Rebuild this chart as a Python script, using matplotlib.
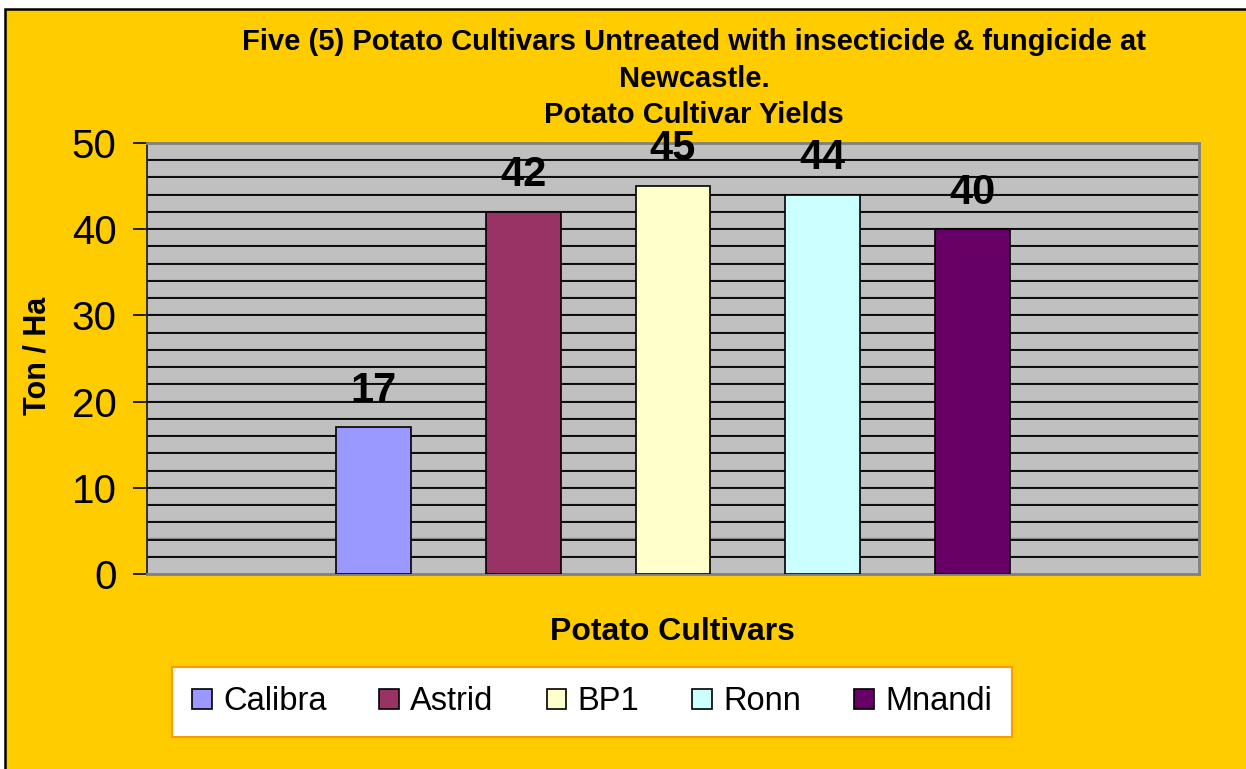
import matplotlib
matplotlib.use('Agg')
import matplotlib.pyplot as plt
from matplotlib.patches import Rectangle, Patch
import numpy as np

plt.rcParams['font.family'] = ['Liberation Sans', 'DejaVu Sans']

cultivars = ['Calibra', 'Astrid', 'BP1', 'Ronn', 'Mnandi']
yields = [17, 42, 45, 44, 40]
colors = ['#9999FF', '#993366', '#FFFFCC', '#CCFFFF', '#660066']
title_lines = ['Five (5) Potato Cultivars Untreated with insecticide & fungicide at',
               'Newcastle.',
               'Potato Cultivar Yields']
y_ticks = [0, 10, 20, 30, 40, 50]

W, H = 1246, 769
fig = plt.figure(figsize=(W / 100, H / 100), dpi=100, facecolor='white')

# orange chart area, black frame only visible on left/top
bg = Rectangle((5 / W, -0.05), 1.1, (H - 9) / H + 0.05, transform=fig.transFigure,
               facecolor='#FFCC00', edgecolor='black', linewidth=1.8, zorder=-10)
fig.patches.append(bg)

ax = fig.add_axes([147 / W, 1 - 574 / H, 1052 / W, 431 / H])
ax.set_facecolor('#C0C0C0')

x = np.arange(len(cultivars))
ax.bar(x, yields, width=0.5, color=colors, edgecolor='black', linewidth=1.2, zorder=3)

for xi, v in zip(x, yields):
    ax.annotate(str(v), (xi, v), xytext=(0, 12), textcoords='offset points',
                ha='center', va='bottom', fontsize=30, fontweight='bold')

ax.set_xlim(2 - 3.507, 2 + 3.507)
ax.set_ylim(0, 50)
ax.set_yticks(y_ticks)
ax.tick_params(axis='y', which='major', labelsize=29, length=10, width=1.2, direction='out', pad=12)
ax.set_xticks([])

# grid lines every 2 units
for g in np.arange(2, 50, 2):
    ax.axhline(g + 0.12, color='#8A8A8A', linewidth=1.0, zorder=1)
    ax.axhline(g, color='black', linewidth=1.3, zorder=2)

ax.spines['left'].set_color('#222222')
ax.spines['left'].set_linewidth(1.3)
for s in ['top', 'right', 'bottom']:
    ax.spines[s].set_color('#808080')
    ax.spines[s].set_linewidth(2)

# titles and axis labels
ty = [42, 79, 115]
for line, yy in zip(title_lines, ty):
    fig.text(694 / W, 1 - yy / H, line, ha='center', va='center', fontsize=21, fontweight='bold')

fig.text(37 / W, 1 - 356 / H, 'Ton / Ha', rotation=90, ha='center', va='center',
         fontsize=22, fontweight='bold')
fig.text(672 / W, 1 - 632 / H, 'Potato Cultivars', ha='center', va='center',
         fontsize=23, fontweight='bold')

handles = [Patch(facecolor=c, edgecolor='black', linewidth=1.2) for c in colors]
leg = fig.legend(handles, cultivars, loc='center', bbox_to_anchor=(592 / W, 1 - 702 / H),
                 ncol=5, fontsize=23.5, frameon=True, fancybox=False, framealpha=1,
                 handlelength=0.6, handleheight=0.6, handletextpad=0.35,
                 columnspacing=1.62, borderpad=0.6, borderaxespad=0)
leg.get_frame().set_edgecolor('#FF9900')
leg.get_frame().set_linewidth(1.5)

fig.savefig('out.png', dpi=100, facecolor=fig.get_facecolor())
